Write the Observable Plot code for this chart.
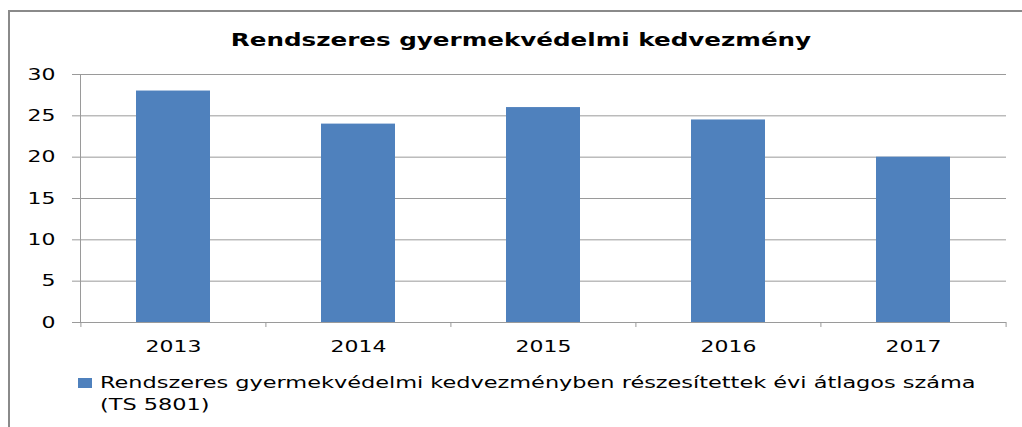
<!DOCTYPE html>
<html><head><meta charset="utf-8">
<script src="https://cdn.jsdelivr.net/npm/d3@7"></script>
<script src="https://cdn.jsdelivr.net/npm/@observablehq/plot@0.6"></script>
<style>
body{margin:0;background:#fff;width:1022px;height:427px;overflow:hidden;position:relative;font-family:"DejaVu Sans",sans-serif;color:#000;}
#frame{position:absolute;left:8px;top:10px;width:1100px;height:500px;border-left:2px solid #8a8a8a;border-top:2px solid #8a8a8a;}
#title{position:absolute;left:0;width:1042px;top:29px;text-align:center;font-weight:bold;font-size:18px;line-height:22px;transform:scaleX(1.366);transform-origin:521px 0;white-space:nowrap;}
#chart{position:absolute;left:0;top:60px;}
#swatch{position:absolute;left:78px;top:378px;width:14px;height:10px;background:#4f81bd;}
#legtext{position:absolute;left:100px;top:372px;font-size:16px;line-height:22px;transform:scaleX(1.40);transform-origin:0 0;white-space:nowrap;}
</style></head>
<body>
<div id="frame"></div>
<div id="title"></div>
<div id="chart"></div>
<div id="swatch"></div>
<div id="legtext"></div>
<script>
const titleText = "Rendszeres gyermekvédelmi kedvezmény";
const seriesName = ["Rendszeres gyermekvédelmi kedvezményben részesítettek évi átlagos száma", "(TS 5801)"];
const years = ["2013", "2014", "2015", "2016", "2017"];
const values = [28, 24, 26, 24.5, 20];
const yTicks = [0, 5, 10, 15, 20, 25, 30];

document.getElementById("title").textContent = titleText;
document.getElementById("legtext").innerHTML = seriesName.map(s => s.replace(/&/g,"&amp;")).join("<br>");

const W = 1022, ml = 80, mr = 16;
const step = (W - ml - mr) / years.length;
const data = years.map((y, i) => ({year: y, value: values[i]}));
const grid = "#9a9a9a";

const plot = Plot.plot({
  width: W, height: 300,
  marginLeft: ml, marginRight: mr, marginTop: 14, marginBottom: 38,
  style: {fontFamily: "DejaVu Sans", fontSize: "16px", color: "#000", background: "transparent"},
  x: {domain: years, paddingInner: 0.6, paddingOuter: 0.3},
  y: {domain: [0, 30]},
  marks: [
    Plot.gridY(yTicks, {stroke: grid, strokeOpacity: 1}),
    Plot.barY(data, {x: "year", y: "value", fill: "#4f81bd"}),
    Plot.ruleY([0], {stroke: grid}),
    Plot.frame({anchor: "left", stroke: grid}),
    Plot.axisY(yTicks, {tickSize: 8, tickPadding: 17, stroke: grid, fill: "#000", label: null, tickFormat: d => String(d)}),
    Plot.axisX({tickSize: 0, tickPadding: 18, fill: "#000", label: null}),
    Plot.axisX(years, {tickSize: 5, stroke: grid, dx: -step / 2, tickFormat: () => "", label: null}),
    Plot.axisX([years[years.length - 1]], {tickSize: 5, stroke: grid, dx: step / 2, tickFormat: () => "", label: null})
  ]
});
document.getElementById("chart").appendChild(plot);
// stretch tick labels horizontally like the reference
plot.querySelectorAll("text").forEach(t => {
  if (!t.textContent) return;
  const len = t.getComputedTextLength();
  if (len > 0) {
    t.setAttribute("textLength", (len * 1.37).toFixed(1));
    t.setAttribute("lengthAdjust", "spacingAndGlyphs");
  }
});
</script>
</body></html>
